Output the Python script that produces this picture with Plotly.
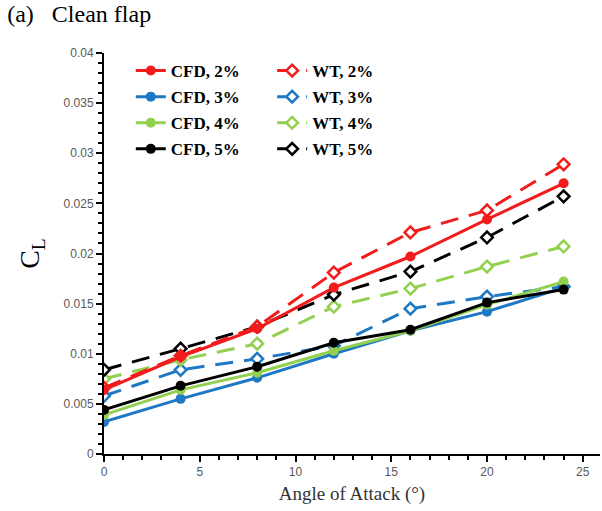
import plotly.graph_objects as go

aoa = [0, 4, 8, 12, 16, 20, 24]
cfd2 = [0.0064, 0.0097, 0.0125, 0.0166, 0.0197, 0.0234, 0.0270]
wt2 = [0.0066, 0.0098, 0.0127, 0.0181, 0.0221, 0.0243, 0.0289]
cfd3 = [0.0032, 0.0055, 0.0076, 0.0100, 0.0123, 0.0142, 0.0166]
wt3 = [0.0058, 0.0084, 0.0095, 0.0108, 0.0145, 0.0157, 0.0167]
cfd4 = [0.0039, 0.0064, 0.0081, 0.0103, 0.0123, 0.0149, 0.0172]
wt4 = [0.0075, 0.0094, 0.0110, 0.0147, 0.0165, 0.0187, 0.0207]
cfd5 = [0.0044, 0.0068, 0.0087, 0.0111, 0.0124, 0.0151, 0.0164]
wt5 = [0.0084, 0.0105, 0.0127, 0.0159, 0.0182, 0.0216, 0.0257]

RED = "#f21c1c"
BLUE = "#1f78c4"
GREEN = "#92d050"
BLACK = "#000000"

series = [
    ("WT, 3%", wt3, BLUE, "wt", 2),
    ("WT, 4%", wt4, GREEN, "wt", 3),
    ("WT, 5%", wt5, BLACK, "wt", 4),
    ("WT, 2%", wt2, RED, "wt", 1),
    ("CFD, 3%", cfd3, BLUE, "cfd", 2),
    ("CFD, 4%", cfd4, GREEN, "cfd", 3),
    ("CFD, 5%", cfd5, BLACK, "cfd", 4),
    ("CFD, 2%", cfd2, RED, "cfd", 1),
]

fig = go.Figure()
for name, vals, col, kind, rank in series:
    if kind == "cfd":
        fig.add_trace(go.Scatter(
            x=aoa, y=vals, name=name, mode="lines+markers",
            line=dict(color=col, width=3),
            marker=dict(symbol="circle", size=10, color=col),
            legend="legend", legendrank=rank, legendgroup=name,
        ))
    else:
        fig.add_trace(go.Scatter(
            x=aoa, y=vals, name=name, mode="lines+markers",
            line=dict(color=col, width=3, dash="18px,11px"),
            marker=dict(symbol="diamond", size=9, color="white",
                        line=dict(color=col, width=2.5)),
            legend="legend2", legendrank=rank, legendgroup=name,
        ))

legend_font = dict(family="Liberation Serif", size=17, color="black", weight="bold")

fig.update_layout(
    width=602, height=511,
    margin=dict(l=104, r=2, t=53, b=57),
    paper_bgcolor="white", plot_bgcolor="white",
    showlegend=True,
    title=dict(text="(a)   Clean flap", x=0.012, xref="container", xanchor="left",
               y=0.99, yref="container", yanchor="top",
               font=dict(family="Liberation Serif", size=24, color="black")),
    legend=dict(x=0.054, y=1.0, xanchor="left", yanchor="top",
                font=legend_font, tracegroupgap=1, bgcolor="rgba(0,0,0,0)"),
    legend2=dict(x=0.339, y=1.0, xanchor="left", yanchor="top",
                 font=legend_font, tracegroupgap=1, bgcolor="rgba(0,0,0,0)"),
    xaxis=dict(
        range=[0, 25.9], dtick=5, tick0=0, showgrid=False, zeroline=False,
        showline=True, linecolor="black", linewidth=2,
        ticks="outside", ticklen=6, tickwidth=2, tickcolor="black",
        minor=dict(dtick=1, ticks="outside", ticklen=4, tickwidth=1.5, tickcolor="black"),
        tickfont=dict(family="Liberation Sans", size=12, color="#595959"),
        title=dict(text="Angle of Attack (°)", standoff=8,
                   font=dict(family="Liberation Serif", size=19, color="#333333")),
    ),
    yaxis=dict(
        range=[0, 0.04], dtick=0.005, tick0=0, showgrid=False, zeroline=False,
        showline=True, linecolor="black", linewidth=2,
        ticks="outside", ticklen=6, tickwidth=2, tickcolor="black",
        minor=dict(dtick=0.001, ticks="outside", ticklen=4, tickwidth=1.5, tickcolor="black"),
        tickfont=dict(family="Liberation Sans", size=12, color="#595959"),
        title=dict(text="C<sub>L</sub>", standoff=16,
                   font=dict(family="Liberation Serif", size=28, color="black")),
    ),
)

fig.write_html("out.html")
